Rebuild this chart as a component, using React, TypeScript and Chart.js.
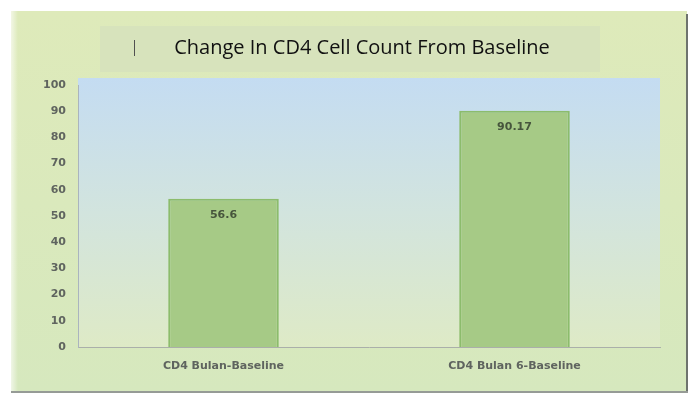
import React, { useEffect, useRef } from "react";
import { Chart, registerables } from "chart.js";

Chart.register(...registerables);

const categories = ["CD4 Bulan-Baseline", "CD4 Bulan 6-Baseline"];
const values = [56.6, 90.17];
const valueLabels = ["56.6", "90.17"];
const titleText = "Change In CD4 Cell Count From Baseline";

const framePlugin = {
  id: "frame",
  beforeDraw(chart: any) {
    const { ctx, chartArea } = chart;
    ctx.save();
    ctx.fillStyle = "#ffffff";
    ctx.fillRect(0, 0, 694, 394);
    // outer frame
    const g = ctx.createLinearGradient(0, 12, 0, 392);
    g.addColorStop(0, "rgb(222,234,186)");
    g.addColorStop(1, "rgb(214,232,190)");
    ctx.fillStyle = g;
    ctx.fillRect(11, 11, 676, 381);
    // left soft white edge
    const lg = ctx.createLinearGradient(8, 0, 18, 0);
    lg.addColorStop(0, "rgba(255,255,255,0.9)");
    lg.addColorStop(1, "rgba(255,255,255,0)");
    ctx.fillStyle = lg;
    ctx.fillRect(8, 11, 10, 381);
    // title box lighter
    ctx.fillStyle = "rgba(214,226,188,0.9)";
    ctx.fillRect(100, 26, 500, 46);
    // right/bottom dark edges
    ctx.fillStyle = "rgb(110,115,110)";
    ctx.fillRect(686, 14, 2, 379);
    ctx.fillStyle = "rgb(150,155,150)";
    ctx.fillRect(11, 391, 677, 2);
    // plot area background
    const top = chartArea.top - 7;
    const pg = ctx.createLinearGradient(0, top, 0, chartArea.bottom);
    pg.addColorStop(0, "rgb(196,220,242)");
    pg.addColorStop(0.5, "rgb(210,228,222)");
    pg.addColorStop(1, "rgb(222,234,198)");
    ctx.fillStyle = pg;
    ctx.fillRect(chartArea.left, top, chartArea.right - chartArea.left, chartArea.bottom - top);
    // small stray mark near title
    ctx.strokeStyle = "rgb(80,80,80)";
    ctx.lineWidth = 1;
    ctx.beginPath();
    ctx.moveTo(134.5, 40);
    ctx.lineTo(134.5, 56);
    ctx.stroke();
    // title
    ctx.fillStyle = "#111";
    ctx.font = "20px 'Open Sans', sans-serif";
    ctx.textAlign = "center";
    ctx.textBaseline = "middle";
    ctx.fillText(titleText, 362, 48);
    ctx.restore();
  },
  afterDatasetsDraw(chart: any) {
    const { ctx } = chart;
    const meta = chart.getDatasetMeta(0);
    ctx.save();
    ctx.fillStyle = "rgb(70,85,60)";
    ctx.font = "bold 11px 'DejaVu Sans', sans-serif";
    ctx.textAlign = "center";
    ctx.textBaseline = "middle";
    meta.data.forEach((bar: any, i: number) => {
      ctx.fillText(valueLabels[i], bar.x, bar.y + 16);
    });
    ctx.restore();
  },
};

export default function App() {
  const ref = useRef<HTMLCanvasElement>(null);
  useEffect(() => {
    const chart = new Chart(ref.current!, {
      type: "bar",
      data: {
        labels: categories,
        datasets: [
          {
            data: values,
            backgroundColor: "rgb(166,202,134)",
            borderColor: "rgb(140,188,108)",
            borderWidth: 2,
            barPercentage: 0.38,
            categoryPercentage: 1,
          },
        ],
      },
      options: {
        responsive: false,
        animation: false,
        devicePixelRatio: 1,
        layout: { padding: { left: 12, right: 34, top: 85, bottom: 12 } },
        plugins: { legend: { display: false }, title: { display: false }, tooltip: { enabled: false } },
        scales: {
          x: {
            grid: { display: false, drawTicks: false },
            border: { display: true, color: "rgb(170,175,170)", width: 1 },
            ticks: { color: "rgb(95,100,95)", font: { size: 11, weight: "bold", family: "'DejaVu Sans', sans-serif" }, padding: 13 },
            afterFit(scale: any) {
              scale.height = 394 - 347 - 12;
            },
          },
          y: {
            min: 0,
            max: 100,
            grid: { display: false, drawTicks: false },
            border: { display: true, color: "rgb(170,180,190)", width: 1 },
            ticks: { stepSize: 10, color: "rgb(95,100,95)", font: { size: 11, weight: "bold", family: "'DejaVu Sans', sans-serif" }, padding: 12 },
            afterFit(scale: any) {
              scale.width = 78 - 12;
            },
          },
        },
      },
      plugins: [framePlugin],
    });
    return () => chart.destroy();
  }, []);
  return (
    <div style={{ position: "fixed", left: 0, top: 0, width: 694, height: 394 }}>
      <canvas ref={ref} width={694} height={394} style={{ display: "block" }} />
    </div>
  );
}
